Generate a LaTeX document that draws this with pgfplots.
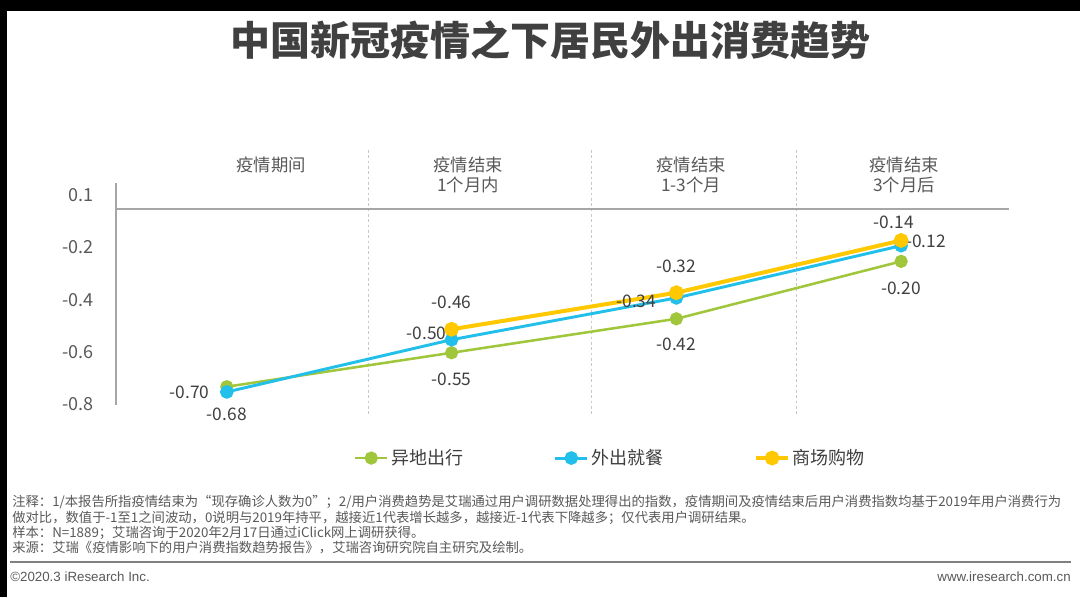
\documentclass[border=0pt]{standalone}
\usepackage{fontspec}
\setmainfont{Noto Sans CJK SC}
\newfontfamily\arialf{Liberation Sans}
\usepackage{pgfplots}
\pgfplotsset{compat=1.18}
\definecolor{cgreen}{HTML}{A0C63C}
\definecolor{cblue}{HTML}{22BFEA}
\definecolor{cyellow}{HTML}{FFC800}
\definecolor{tgray}{HTML}{595959}
\definecolor{tdark}{HTML}{404040}
\definecolor{lgray}{HTML}{A6A6A6}
\definecolor{sgray}{HTML}{C8C8C8}
\begin{document}
\begin{tikzpicture}
\useasboundingbox (0,0) rectangle (810pt,447.75pt);
\fill[white] (0,0) rectangle (810pt,447.75pt);
\begin{scope}[x=0.75pt,y=-0.75pt,shift={(0pt,447.75pt)}]
  \fill[black] (0,0) rectangle (1080,11);
  \fill[black] (0,0) rectangle (7,597);
  \node[font=\bfseries\fontsize{30}{32}\selectfont, text=tdark] at (550,40) {中国新冠疫情之下居民外出消费趋势};
  % separators
  \foreach \xx in {368,591,796} {
    \draw[sgray, line width=0.6pt, dash pattern=on 2pt off 2pt] (\xx,150) -- (\xx,415);
  }
  % category labels
  \begin{scope}[every node/.style={font=\fontsize{13}{15}\selectfont, text=tgray, align=center, inner sep=0pt}]
    \node at (271,165) {疫情期间};
    \node at (468,175) {疫情结束\\1个月内};
    \node at (691,175) {疫情结束\\1-3个月};
    \node at (904,175) {疫情结束\\3个月后};
  \end{scope}
  % notes
  \begin{scope}[every node/.style={font=\fontsize{10}{12}\selectfont, text=tgray, anchor=west, inner sep=0pt}]
    \node at (12,502) {注释：1/本报告所指疫情结束为“现存确诊人数为0”；2/用户消费趋势是艾瑞通过用户调研数据处理得出的指数，疫情期间及疫情结束后用户消费指数均基于2019年用户消费行为};
    \node at (12,518) {做对比，数值于-1至1之间波动，0说明与2019年持平，越接近1代表增长越多，越接近-1代表下降越多；仅代表用户调研结果。};
    \node at (12,533) {样本：N=1889；艾瑞咨询于2020年2月17日通过iClick网上调研获得。};
    \node at (12,548) {来源：艾瑞《疫情影响下的用户消费指数趋势报告》，艾瑞咨询研究院自主研究及绘制。};
  \end{scope}
  \draw[gray, line width=1.1pt] (10,562) -- (1071,562);
  \node[font=\arialf\fontsize{10}{12}\selectfont, text=tgray, anchor=west, inner sep=0pt] at (10,577) {©2020.3 iResearch Inc.};
  \node[font=\arialf\fontsize{10}{12}\selectfont, text=tgray, anchor=east, inner sep=0pt] at (1071,577) {www.iresearch.com.cn};
\end{scope}

\begin{axis}[
  at={(87pt,144pt)}, anchor=south west,
  scale only axis, width=669.75pt, height=166.5pt,
  xmin=-0.493, xmax=3.48, ymin=-0.75, ymax=0.10,
  axis x line=none, axis y line*=left,
  y axis line style={draw=lgray, line width=0.9pt, -},
  ytick={0.053,-0.147,-0.347,-0.547,-0.747},
  yticklabels={0.1,-0.2,-0.4,-0.6,-0.8},
  major tick length=0pt,
  yticklabel style={font=\fontsize{13.5}{15}\selectfont, text=tgray, anchor=east, inner sep=0pt, xshift=-16.5pt},
  clip=false,
  legend style={at={(0.554,-0.239)}, anchor=center, draw=none, fill=none,
    legend columns=3, font=\fontsize{13.5}{15}\selectfont, text=tdark,
    /tikz/every even column/.append style={column sep=66pt}},
  legend image code/.code={\draw[mark repeat=2,mark phase=2,#1] plot coordinates {(0pt,0pt) (12pt,0pt) (24pt,0pt)};},
]
\draw[lgray, line width=1.1pt] (axis cs:-0.493,0) -- (axis cs:3.48,0);
\addplot[cgreen, line width=1.9pt, mark=*, mark size=4pt, mark options={solid}] coordinates {(0,-0.68) (1,-0.55) (2,-0.42) (3,-0.20)};
\addplot[cblue, line width=2.2pt, mark=*, mark size=4pt, mark options={solid}] coordinates {(0,-0.70) (1,-0.50) (2,-0.34) (3,-0.14)};
\addplot[cyellow, line width=3pt, mark=*, mark size=4pt, mark options={solid}] coordinates {(1,-0.46) (2,-0.32) (3,-0.12)};
\legend{异地出行,外出就餐,商场购物}
\begin{scope}[every node/.style={font=\fontsize{13}{15}\selectfont, text=tdark, inner sep=0pt}]
  % green
  \node[yshift=-21pt] at (axis cs:0,-0.68) {-0.68};
  \node[yshift=-20pt] at (axis cs:1,-0.55) {-0.55};
  \node[yshift=-19.5pt] at (axis cs:2,-0.42) {-0.42};
  \node[yshift=-20pt] at (axis cs:3,-0.20) {-0.20};
  % blue
  \node[anchor=east, xshift=-12.75pt] at (axis cs:0,-0.70) {-0.70};
  \node[anchor=east, xshift=-3.75pt, yshift=5pt] at (axis cs:1,-0.50) {-0.50};
  \node[anchor=east, xshift=-15pt, yshift=-2.25pt] at (axis cs:2,-0.34) {-0.34};
  \node[xshift=-5.5pt, yshift=13.5pt] at (axis cs:3,-0.12) {-0.14};
  % yellow
  \node[yshift=20pt] at (axis cs:1,-0.46) {-0.46};
  \node[yshift=19.5pt] at (axis cs:2,-0.32) {-0.32};
  \node[anchor=west, xshift=3.5pt, yshift=-1pt] at (axis cs:3,-0.12) {-0.12};
\end{scope}
\end{axis}
\end{tikzpicture}
\end{document}
